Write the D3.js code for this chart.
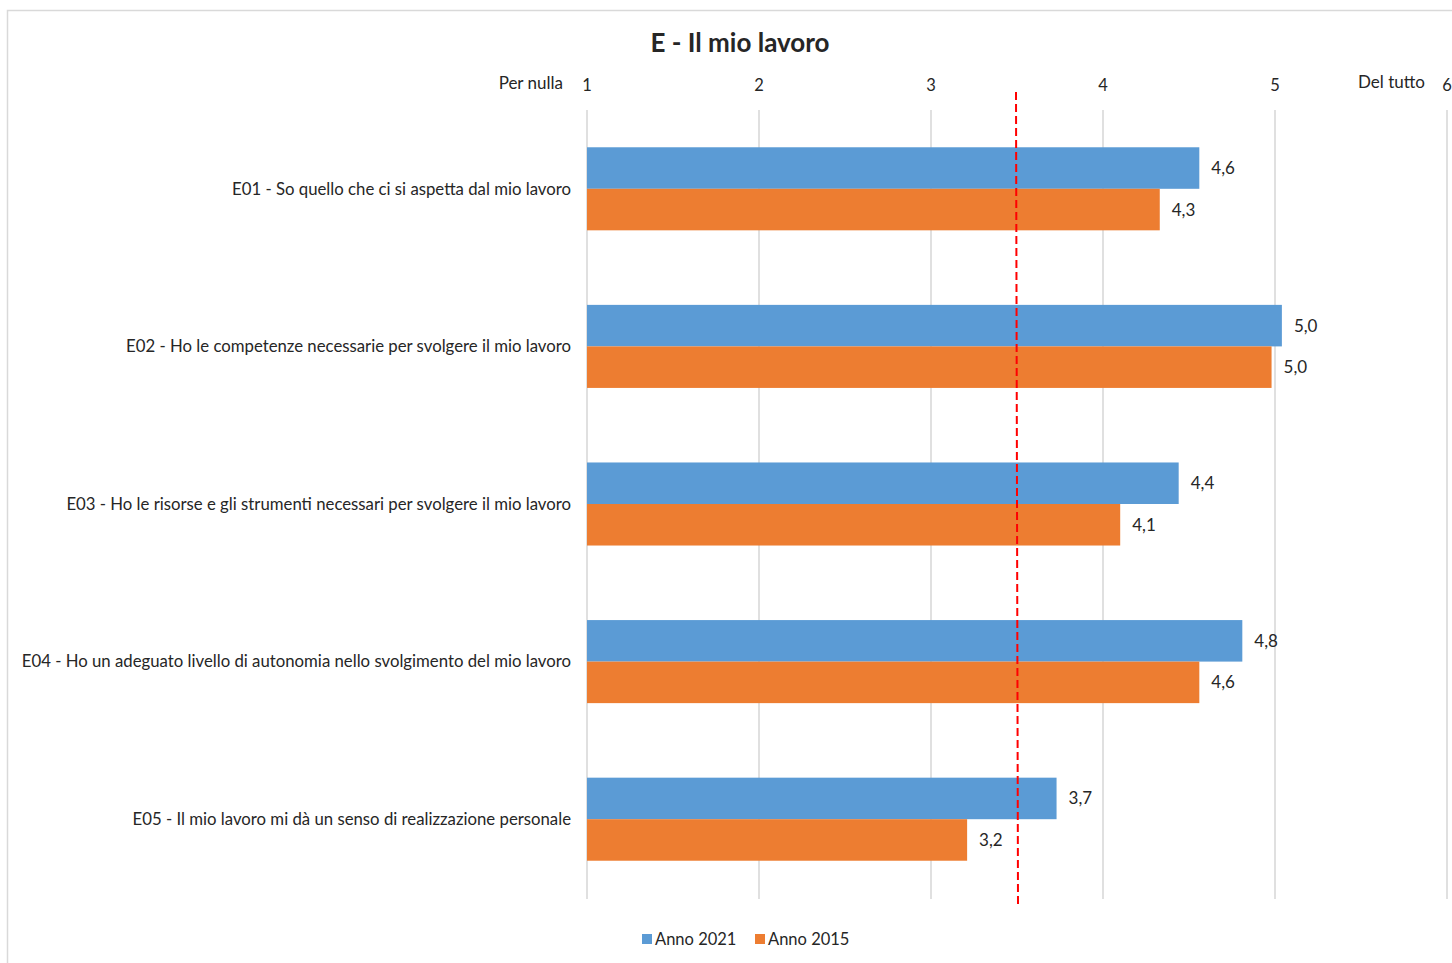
<!DOCTYPE html>
<html><head><meta charset="utf-8">
<script src="https://cdn.jsdelivr.net/npm/d3@7"></script>
<style>
html,body{margin:0;padding:0;background:#fff;}
svg text{font-family:Lato,"Open Sans",sans-serif;fill:#262626;}
</style></head>
<body>
<svg id="chart" width="1452" height="963"></svg>
<script>
const categories = [
  "E01 - So quello che ci si aspetta dal mio lavoro",
  "E02 - Ho le competenze necessarie per svolgere il mio lavoro",
  "E03 - Ho le risorse e gli strumenti necessari per svolgere il mio lavoro",
  "E04 - Ho un adeguato livello di autonomia nello svolgimento del mio lavoro",
  "E05 - Il mio lavoro mi dà un senso di realizzazione personale"
];
const seriesNames = ["Anno 2021", "Anno 2015"];
const values2021 = [4.56, 5.04, 4.44, 4.81, 3.73];
const values2015 = [4.33, 4.98, 4.10, 4.56, 3.21];
const tickValues = [1, 2, 3, 4, 5, 6];
const referenceValue = 3.5;
const axisMinLabel = "Per nulla";
const axisMaxLabel = "Del tutto";
const title = "E - Il mio lavoro";
const colors = ["#5B9BD5", "#ED7D31"];

const svg = d3.select("#chart");
const fmt = v => d3.format(".1f")(v).replace(".", ",");

// frame
svg.append("path").attr("d", "M7.5,963 V10.5 H1452").attr("fill", "none")
  .attr("stroke", "#d9d9d9").attr("stroke-width", 1.5);

const x = d3.scaleLinear().domain([1, 6]).range([587, 1447]);
const y = d3.scaleBand().domain(categories).range([110, 898])
  .paddingInner(0.473).paddingOuter(0.2365);
const ySub = d3.scaleBand().domain(seriesNames).range([0, y.bandwidth()]);

// gridlines
svg.append("g").selectAll("line").data(tickValues).join("line")
  .attr("x1", d => x(d)).attr("x2", d => x(d))
  .attr("y1", 110).attr("y2", 899)
  .attr("stroke", "#d9d9d9").attr("stroke-width", 1.6);

// top axis labels
svg.append("g").selectAll("text").data(tickValues).join("text")
  .attr("x", d => x(d)).attr("y", 91)
  .attr("text-anchor", "middle").attr("font-size", 16.5)
  .text(d => d);
svg.append("text").attr("x", 563).attr("y", 89).attr("text-anchor", "end")
  .attr("font-size", 17).text(axisMinLabel);
svg.append("text").attr("x", 1425).attr("y", 88).attr("text-anchor", "end")
  .attr("font-size", 17).text(axisMaxLabel);

// title
svg.append("text").attr("x", 740).attr("y", 52).attr("text-anchor", "middle")
  .attr("font-size", 26).attr("font-weight", "bold").attr("fill", "#000")
  .text(title);

const series = [values2021, values2015];
const rows = [];
categories.forEach((c, i) => {
  series.forEach((vals, s) => rows.push({cat: c, s, v: vals[i]}));
});

svg.append("g").selectAll("rect").data(rows).join("rect")
  .attr("x", x(1))
  .attr("y", d => y(d.cat) + ySub(seriesNames[d.s]))
  .attr("width", d => x(d.v) - x(1))
  .attr("height", ySub.bandwidth())
  .attr("fill", d => colors[d.s]);

svg.append("g").selectAll("text").data(rows).join("text")
  .attr("x", d => x(d.v) + 12)
  .attr("y", d => y(d.cat) + ySub(seriesNames[d.s]) + ySub.bandwidth() / 2)
  .attr("dy", "0.35em").attr("font-size", 17)
  .text(d => fmt(d.v));

// category labels
svg.append("g").selectAll("text").data(categories).join("text")
  .attr("x", 571).attr("y", d => y(d) + y.bandwidth() / 2)
  .attr("dy", "0.35em").attr("text-anchor", "end").attr("font-size", 16.75)
  .text(d => d);

// reference line
svg.append("line").attr("x1", x(referenceValue) - 1).attr("x2", x(referenceValue) + 1)
  .attr("y1", 92).attr("y2", 905)
  .attr("stroke", "#FF0000").attr("stroke-width", 2)
  .attr("stroke-dasharray", "8,4");

// legend
const legend = svg.append("g");
const legendX = [642, 755];
seriesNames.forEach((n, i) => {
  legend.append("rect").attr("x", legendX[i]).attr("y", 934).attr("width", 10).attr("height", 10)
    .attr("fill", colors[i]);
  legend.append("text").attr("x", legendX[i] + 13).attr("y", 939).attr("dy", "0.35em")
    .attr("font-size", 16.5).text(n);
});
</script>
</body></html>
